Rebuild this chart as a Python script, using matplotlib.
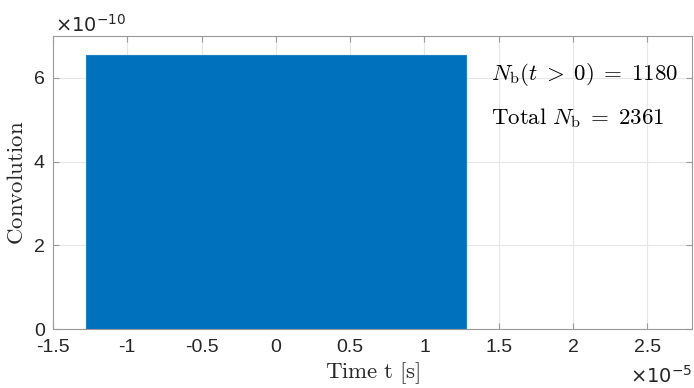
import matplotlib
matplotlib.use("Agg")
import matplotlib.pyplot as plt
from matplotlib.ticker import FuncFormatter

# Data (time in seconds, convolution value)
t_start = -1.28e-5
t_end = 1.28e-5
conv_value = 6.55e-10
n_b_positive = 1180
n_b_total = 2361

x_ticks = [-1.5e-5, -1e-5, -0.5e-5, 0, 0.5e-5, 1e-5, 1.5e-5, 2e-5, 2.5e-5]
y_ticks = [0, 2e-10, 4e-10, 6e-10]

plt.rcParams['mathtext.fontset'] = 'cm'
plt.rcParams['font.family'] = ['Liberation Sans', 'DejaVu Sans']
blue = '#0072BD'
axcol = '#9a9a9a'

fig = plt.figure(figsize=(6.94, 3.88), dpi=100)
ax = fig.add_axes([0.0764, 0.152, 0.9206, 0.755])

ax.bar([t_start], [conv_value], width=[t_end - t_start], align='edge',
       color=blue, edgecolor='#1f80c4', linewidth=0.8, zorder=2)

ax.set_xlim(-1.5e-5, 2.8e-5)
ax.set_ylim(0, 7e-10)
ax.set_xticks(x_ticks)
ax.set_yticks(y_ticks)
ax.xaxis.set_major_formatter(FuncFormatter(lambda v, p: f"{v/1e-5:g}"))
ax.yaxis.set_major_formatter(FuncFormatter(lambda v, p: f"{v/1e-10:g}"))

ax.grid(True, color='#e6e6e6', linewidth=0.8, zorder=0)
ax.set_axisbelow(True)
for s in ax.spines.values():
    s.set_color(axcol)
    s.set_linewidth(0.8)
    s.set_zorder(3)
ax.tick_params(direction='in', length=4, width=0.8, color=axcol,
               top=True, right=True, labelsize=14, labelcolor='#262626')
ax.tick_params(axis='x', pad=7)
ax.tick_params(axis='y', pad=6)

ax.set_xlabel(r"$\mathrm{Time\ t\ [s]}$", fontsize=16.5, labelpad=3, color='#262626')
ax.set_ylabel(r"$\mathrm{Convolution}$", fontsize=16.5, labelpad=4, color='#262626')

ax.text(1.45e-5, 6.08e-10, r"$N_{\mathrm{b}}(t\;>\;0)\;=\;%d$" % n_b_positive,
        fontsize=16.5, va='center', ha='left', color='black')
ax.text(1.45e-5, 5.05e-10, r"$\mathrm{Total}\ N_{\mathrm{b}}\;=\;%d$" % n_b_total,
        fontsize=16.5, va='center', ha='left', color='black')

fig.text(55/694, 1 - 25/388, r"$\times10^{-10}$", fontsize=14, ha='left', va='center',
         color='#262626', math_fontfamily='dejavusans')
fig.text(692/694, 1 - 376/388, r"$\times10^{-5}$", fontsize=14, ha='right', va='center',
         color='#262626', math_fontfamily='dejavusans')

fig.savefig("out.png", dpi=100)
